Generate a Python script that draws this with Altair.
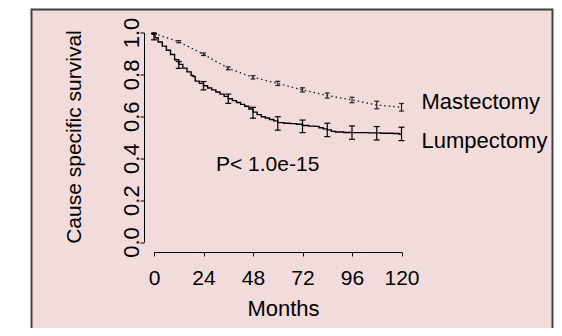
import altair as alt
import pandas as pd

FONT = "Liberation Sans"

# ---- data ----
month_ticks = [0, 12, 24, 36, 48, 60, 72, 84, 96, 108, 120]
surv_ticks = [0.0, 0.2, 0.4, 0.6, 0.8, 1.0]

# Lumpectomy Kaplan-Meier step curve
lump_t = [0, 0.5, 2, 4, 6, 8, 10, 12, 14, 16, 18, 19, 20, 22, 24, 26, 28, 30,
          32, 34, 36, 38, 40, 42, 44, 46, 48, 50, 52, 54, 56, 58, 60, 63, 66,
          69, 72, 75, 78, 80, 82, 84, 86, 88, 92, 96, 104, 110, 116, 119, 120]
lump_s = [0.99, 0.975, 0.955, 0.935, 0.915, 0.895, 0.870, 0.848, 0.830, 0.812,
          0.795, 0.790, 0.768, 0.757, 0.746, 0.735, 0.726, 0.716, 0.706, 0.695,
          0.684, 0.675, 0.666, 0.657, 0.648, 0.635, 0.620, 0.608, 0.598, 0.592,
          0.585, 0.578, 0.570, 0.567, 0.565, 0.562, 0.556, 0.553, 0.552, 0.545,
          0.540, 0.535, 0.528, 0.525, 0.523, 0.522, 0.521, 0.519, 0.518, 0.514,
          0.514]

# Lumpectomy error bars (every 12 months)
lump_bar_s = [0.98, 0.845, 0.746, 0.684, 0.617, 0.566, 0.552, 0.535, 0.522, 0.519, 0.516]
lump_bar_e = [0.015, 0.016, 0.020, 0.022, 0.026, 0.032, 0.030, 0.032, 0.032, 0.032, 0.032]

# Mastectomy curve and error bars
mast_s = [0.995, 0.956, 0.896, 0.829, 0.786, 0.757, 0.726, 0.699, 0.678, 0.654, 0.643]
mast_e = [0.004, 0.005, 0.006, 0.007, 0.008, 0.010, 0.010, 0.012, 0.013, 0.018, 0.018]

p_text = "P< 1.0e-15"
names = ["Mastectomy", "Lumpectomy"]

# ---- tables ----
lump_curve = pd.DataFrame({"t": lump_t, "s": lump_s})
mast_curve = pd.DataFrame({"t": month_ticks, "s": mast_s})
lump_bars = pd.DataFrame({
    "t": month_ticks,
    "lo": [s - e for s, e in zip(lump_bar_s, lump_bar_e)],
    "hi": [s + e for s, e in zip(lump_bar_s, lump_bar_e)],
})
mast_bars = pd.DataFrame({
    "t": month_ticks,
    "lo": [s - e for s, e in zip(mast_s, mast_e)],
    "hi": [s + e for s, e in zip(mast_s, mast_e)],
})
ends = pd.DataFrame({"t": [month_ticks[-1]] * 2,
                     "s": [mast_s[-1], lump_bar_s[-1]],
                     "name": names})

xscale = alt.Scale(domain=[0, 120], nice=False, zero=False)
yscale = alt.Scale(domain=[0, 1], nice=False)

xaxis = alt.Axis(values=month_ticks,
                 labelExpr="datum.value % 24 == 0 ? datum.label : ''",
                 title="Months", offset=10, tickSize=4, grid=False,
                 domainColor="black", tickColor="black", labelColor="black",
                 labelFont=FONT, labelFontSize=21, labelPadding=11,
                 labelFlush=False,
                 titleFont=FONT, titleFontSize=22, titleFontWeight="normal",
                 titleColor="black", titleX=129, titleY=63,
                 titleBaseline="alphabetic", zindex=1)
yaxis = alt.Axis(values=surv_ticks, format=".1f",
                 title="Cause specific survival", offset=10, tickSize=4,
                 grid=False, domainColor="black", tickColor="black",
                 labelColor="black", labelFont=FONT, labelFontSize=22,
                 labelAngle=270, labelAlign="center",
                 labelBaseline="alphabetic", labelPadding=2, labelFlush=False,
                 titleFont=FONT, titleFontSize=21, titleFontWeight="normal",
                 titleColor="black", titleAngle=270, titleAlign="center",
                 titleBaseline="alphabetic", titleX=-64, titleY=104, zindex=1)

X = alt.X("t:Q", scale=xscale, axis=xaxis)
Y = alt.Y("s:Q", scale=yscale, axis=yaxis)

bg = alt.Chart(pd.DataFrame({"k": [0]})).mark_rect(
    fill="#F2DCDB", stroke="#404040", strokeWidth=2
).encode(x=alt.value(-122.5), x2=alt.value(398.5),
         y=alt.value(-23), y2=alt.value(400))

lump_line = alt.Chart(lump_curve).mark_line(
    interpolate="step-after", color="black", strokeWidth=1.4
).encode(x=X, y=Y)

mast_line = alt.Chart(mast_curve).mark_line(
    color="#222222", strokeWidth=1.4, strokeDash=[1.5, 3]
).encode(x=X, y=Y)


def bars(df, cap, color):
    rule = alt.Chart(df).mark_rule(color=color, strokeWidth=1.2).encode(
        x="t:Q", y="lo:Q", y2="hi:Q")
    lo_cap = alt.Chart(df).mark_rule(color=color, strokeWidth=1.2,
                                     xOffset=-cap, x2Offset=cap).encode(
        x="t:Q", x2="t:Q", y="lo:Q")
    hi_cap = alt.Chart(df).mark_rule(color=color, strokeWidth=1.2,
                                     xOffset=-cap, x2Offset=cap).encode(
        x="t:Q", x2="t:Q", y="hi:Q")
    return [rule, lo_cap, hi_cap]


mast_label = alt.Chart(ends[ends["name"] == names[0]]).mark_text(
    align="left", baseline="alphabetic", dx=20, dy=2,
    font=FONT, fontSize=22, color="black"
).encode(x="t:Q", y="s:Q", text="name:N")

lump_label = alt.Chart(ends[ends["name"] == names[1]]).mark_text(
    align="left", baseline="alphabetic", dx=20, dy=14,
    font=FONT, fontSize=22, color="black"
).encode(x="t:Q", y="s:Q", text="name:N")

p_label = alt.Chart(pd.DataFrame({"k": [0]})).mark_text(
    align="left", baseline="alphabetic", font=FONT, fontSize=21, color="black"
).encode(x=alt.value(62), y=alt.value(138.5), text=alt.value(p_text))

chart = alt.layer(
    bg, mast_line, lump_line,
    *bars(mast_bars, 2.5, "#222222"),
    *bars(lump_bars, 3, "black"),
    mast_label, lump_label, p_label
).properties(
    width=247.5, height=209.5,
    autosize=alt.AutoSizeParams(type="none"),
    padding={"left": 146, "top": 24.5, "right": 152.5, "bottom": 86},
    background="white"
).configure_view(stroke=None)

chart.save("out.html", embed_options={"renderer": "svg", "actions": False})
